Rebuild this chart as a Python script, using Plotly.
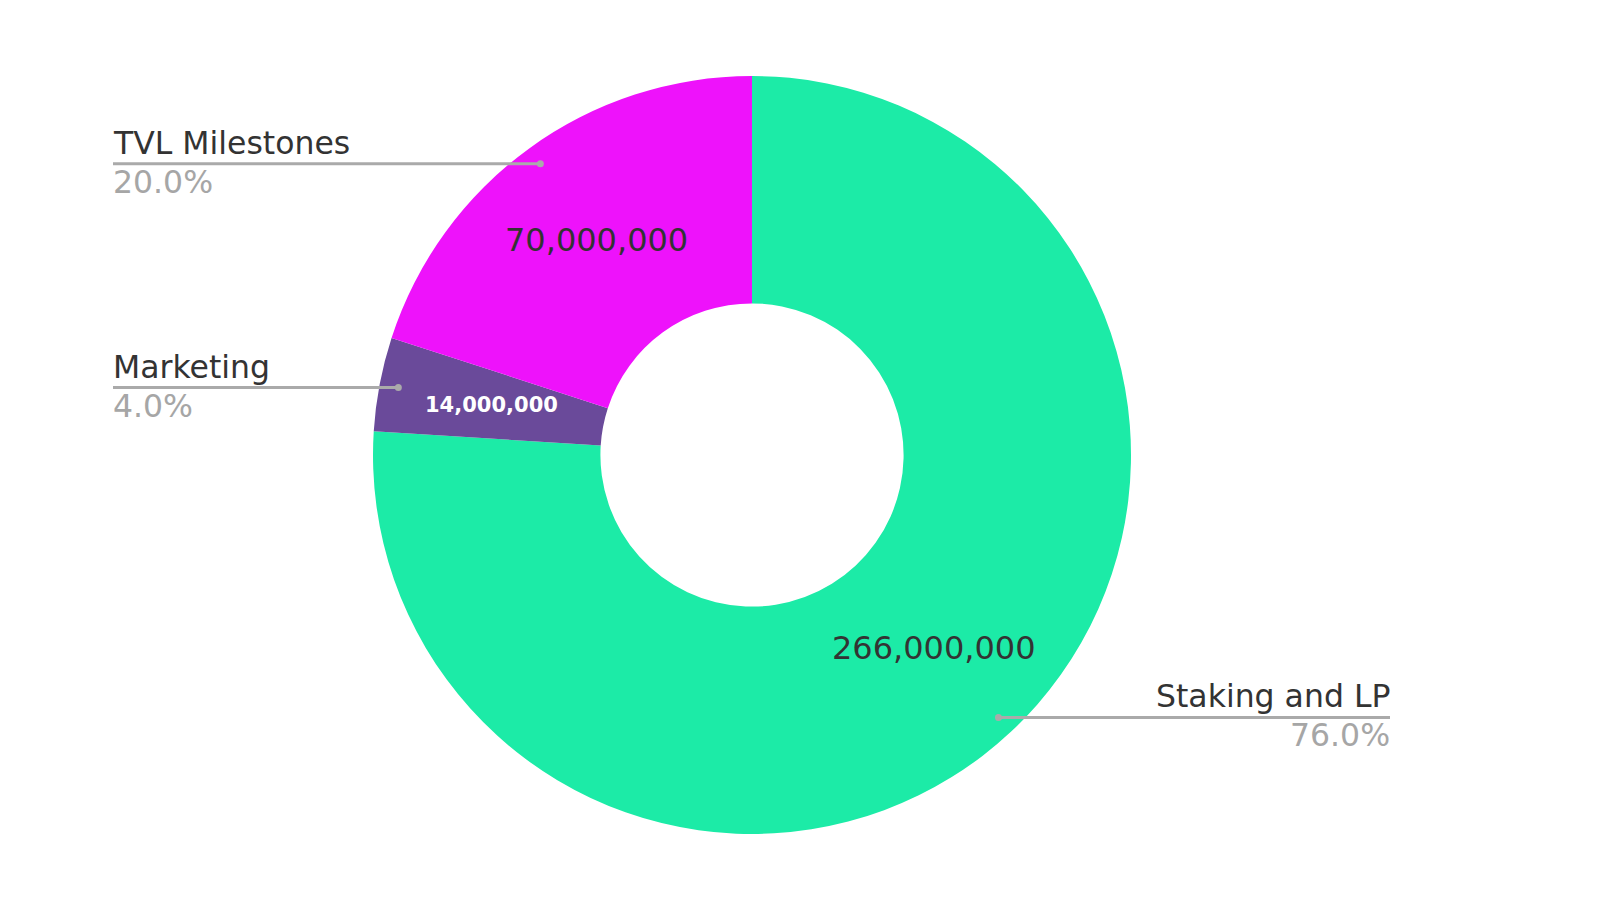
import math
import plotly.graph_objects as go

labels = ["Staking and LP", "Marketing", "TVL Milestones"]
values = [266000000, 14000000, 70000000]
colors = ["#1CEBA7", "#6A4A9A", "#EE12FB"]
value_text_colors = ["#333333", "#FFFFFF", "#333333"]
value_font_sizes = [32, 21, 32]
label_side = ["right", "left", "left"]

W, H = 1600, 904
CX, CY, R = 744, 447, 379
HOLE = 0.4
LEFT_X, RIGHT_X = 105, 1382
LABEL_SIZE = 31.5
DOT_R = 0.95


def px(x):
    return x / W


def py(y):
    return 1 - y / H


fig = go.Figure(go.Pie(
    labels=labels,
    values=values,
    marker=dict(colors=colors, line=dict(width=0)),
    hole=HOLE,
    sort=False,
    direction="clockwise",
    rotation=0,
    textinfo="none",
    hoverinfo="label+value+percent",
    showlegend=False,
    domain=dict(x=[px(CX - R), px(CX + R)], y=[py(CY + R), py(CY - R)]),
))

total = sum(values)
cum = 0
annotations = []
shapes = []
for lab, val, side, tc, fs in zip(labels, values, label_side, value_text_colors, value_font_sizes):
    mid = (cum + val / 2) / total * 2 * math.pi
    cum += val
    # value text at mid ring
    rm = R * (1 + HOLE) / 2
    vx = CX + rm * math.sin(mid)
    vy = CY - rm * math.cos(mid)
    annotations.append(dict(
        x=px(vx), y=py(vy), xref="paper", yref="paper", showarrow=False,
        text=f"{val:,}" if fs > 25 else f"<b>{val:,}</b>",
        font=dict(family="DejaVu Sans", size=fs, color=tc),
        xanchor="center", yanchor="middle",
    ))
    # leader dot
    rd = R * DOT_R
    dx = CX + rd * math.sin(mid)
    dy = CY - rd * math.cos(mid)
    lx = LEFT_X if side == "left" else RIGHT_X
    anchor = "left" if side == "left" else "right"
    shapes.append(dict(type="line", xref="paper", yref="paper",
                       x0=px(dx), x1=px(lx), y0=py(dy), y1=py(dy),
                       line=dict(color="#AAAAAA", width=3)))
    shapes.append(dict(type="circle", xref="paper", yref="paper",
                       x0=px(dx - 3.5), x1=px(dx + 3.5), y0=py(dy + 3.5), y1=py(dy - 3.5),
                       fillcolor="#AAAAAA", line=dict(width=0)))
    annotations.append(dict(
        x=px(lx), y=py(dy - 1), xref="paper", yref="paper", showarrow=False,
        text=lab, font=dict(family="DejaVu Sans", size=LABEL_SIZE, color="#333333"),
        xanchor=anchor, yanchor="bottom", xshift=-2 if side == "left" else 2,
    ))
    annotations.append(dict(
        x=px(lx), y=py(dy - 2), xref="paper", yref="paper", showarrow=False,
        text=f"{val / total * 100:.1f}%", font=dict(family="DejaVu Sans", size=LABEL_SIZE, color="#A6A6A6"),
        xanchor=anchor, yanchor="top", xshift=-2 if side == "left" else 2,
    ))

fig.update_layout(
    width=W, height=H,
    margin=dict(l=0, r=0, t=0, b=0),
    paper_bgcolor="white", plot_bgcolor="white",
    annotations=annotations, shapes=shapes,
)
fig.write_html("out.html")
